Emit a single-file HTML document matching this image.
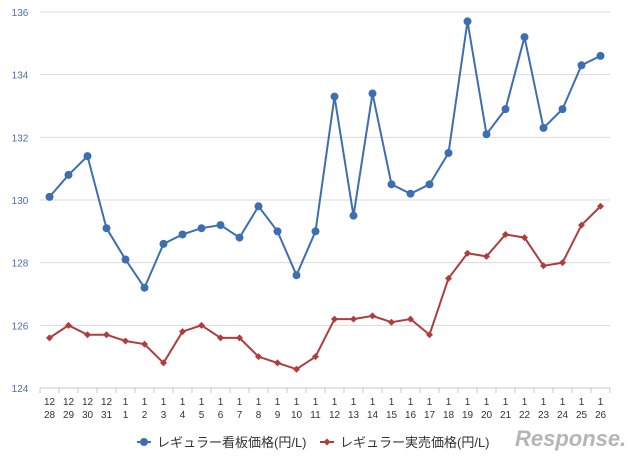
<!DOCTYPE html>
<html><head><meta charset="utf-8"><style>
body{margin:0;background:#fff;width:640px;height:458px;overflow:hidden;font-family:"Liberation Sans","Noto Sans CJK JP",sans-serif}
</style></head><body>
<svg id="chart" width="640" height="458" xmlns="http://www.w3.org/2000/svg"></svg>
<script>
const months=["12","12","12","12","1","1","1","1","1","1","1","1","1","1","1","1","1","1","1","1","1","1","1","1","1","1","1","1","1","1"];
const days=["28","29","30","31","1","2","3","4","5","6","7","8","9","10","11","12","13","14","15","16","17","18","19","20","21","22","23","24","25","26"];
const signPrice=[130.1,130.8,131.4,129.1,128.1,127.2,128.6,128.9,129.1,129.2,128.8,129.8,129.0,127.6,129.0,133.3,129.5,133.4,130.5,130.2,130.5,131.5,135.7,132.1,132.9,135.2,132.3,132.9,134.3,134.6];
const actualPrice=[125.6,126.0,125.7,125.7,125.5,125.4,124.8,125.8,126.0,125.6,125.6,125.0,124.8,124.6,125.0,126.2,126.2,126.3,126.1,126.2,125.7,127.5,128.3,128.2,128.9,128.8,127.9,128.0,129.2,129.8];
const yTicks=[124,126,128,130,132,134,136];
const NS="http://www.w3.org/2000/svg";
const svg=document.getElementById('chart');
const X0=40,X1=610,Y0=388,Y1=12,ymin=124,ymax=136;
const step=(X1-X0)/days.length;
const xs=i=>X0+step*(i+0.5);
const ys=v=>Y0-(v-ymin)/(ymax-ymin)*(Y0-Y1);
function mk(t,a,p){const e=document.createElementNS(NS,t);for(const k in a)e.setAttribute(k,a[k]);(p||svg).appendChild(e);return e;}
yTicks.forEach(v=>{
  if(v>ymin){const g=mk('line',{x1:X0,x2:X1,y1:ys(v),y2:ys(v),stroke:'#d9d9d9','stroke-width':1});
  
  }
  const t=mk('text',{x:20,y:ys(v)+4,'font-size':10,fill:'#4a6fa5','text-anchor':'middle'});t.textContent=v;
  
  
});
const ax=mk('line',{x1:X0,x2:X1,y1:Y0,y2:Y0,stroke:'#bfc8d8','stroke-width':1});


for(let i=0;i<=days.length;i++){const tk=mk('line',{x1:X0+step*i,x2:X0+step*i,y1:Y0,y2:Y0+5,stroke:'#bfc8d8'});

}
days.forEach((d,i)=>{
  const t=mk('text',{x:xs(i),y:405,'font-size':10,fill:'#333','text-anchor':'middle'});t.textContent=months[i];
  
  
  const t2=mk('text',{x:xs(i),y:418,'font-size':10,fill:'#333','text-anchor':'middle'});t2.textContent=d;
  
  
});
function series(vals,color,name,diamond){
  const l=mk('polyline',{points:vals.map((v,i)=>xs(i)+','+ys(v)).join(' '),fill:'none',stroke:color,'stroke-width':2});
  
  
  vals.forEach((v,i)=>{
    let m;
    if(diamond){const x=xs(i),y=ys(v);m=mk('polygon',{points:`${x},${y-3.5} ${x+3.5},${y} ${x},${y+3.5} ${x-3.5},${y}`,fill:color});}
    else m=mk('circle',{cx:xs(i),cy:ys(v),r:4,fill:color});
    
    
  });
}
series(signPrice,'#3d6fb0','sign-price',false);
series(actualPrice,'#b13c3c','actual-price',true);
// legend
const lg=mk('g',{});


mk('line',{x1:137,x2:151,y1:442,y2:442,stroke:'#3d6fb0','stroke-width':2},lg);
mk('circle',{cx:144,cy:442,r:4,fill:'#3d6fb0'},lg);
const l1=mk('text',{x:157,y:447,'font-size':13,fill:'#333'},lg);l1.textContent='レギュラー看板価格(円/L)';


mk('line',{x1:320,x2:334,y1:442,y2:442,stroke:'#b13c3c','stroke-width':2},lg);
mk('polygon',{points:'327,438.5 330.5,442 327,445.5 323.5,442',fill:'#b13c3c'},lg);
const l2=mk('text',{x:340,y:447,'font-size':13,fill:'#333'},lg);l2.textContent='レギュラー実売価格(円/L)';


const logo=mk('text',{x:515,y:446,'font-size':22,fill:'#b5b5b5','font-weight':'bold','font-style':'italic'});logo.textContent='Response.';


</script>
</body></html>
